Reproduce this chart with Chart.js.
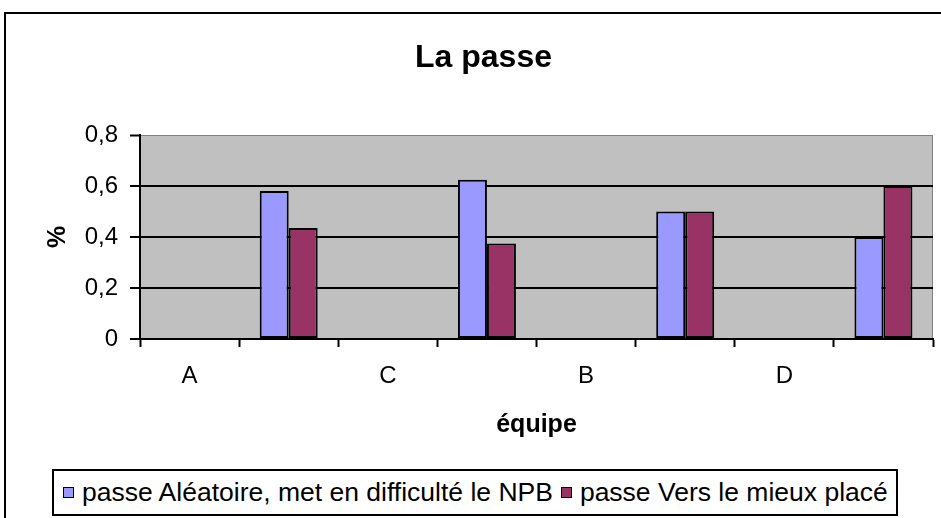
<!DOCTYPE html>
<html>
<head>
<meta charset="utf-8">
<script src="https://cdn.jsdelivr.net/npm/chart.js@4/dist/chart.umd.min.js"></script>
<style>
  html, body { margin: 0; padding: 0; background: #fff; overflow: hidden; }
  body { width: 941px; height: 518px; position: relative; font-family: "Liberation Sans", Arial, sans-serif; }
  #frame { position: absolute; left: 4px; top: 12px; width: 980px; height: 560px; border: 2px solid #000; }
  #chart { position: absolute; left: 0; top: 0; }
  #legend {
    position: absolute; left: 52px; top: 469px; width: 846px; height: 47px;
    box-sizing: border-box; border: 2px solid #000; background: #fff;
    display: flex; align-items: center; padding-left: 9px;
    font-size: 26.5px; color: #000; white-space: nowrap;
  }
  .legend-item { display: flex; align-items: center; margin-right: 8px; }
  .legend-color { width: 9px; height: 9px; border: 1.5px solid #000; margin-right: 8px; }
</style>
</head>
<body>
<div id="frame"></div>
<canvas id="chart" width="941" height="518"></canvas>
<div id="legend"></div>
<script>
// Data
const categories = ['A', '', 'C', '', 'B', '', 'D', ''];
const seriesNames = ['passe Aléatoire, met en difficulté le NPB', 'passe Vers le mieux placé'];
const randomPass = [null, 0.58, null, 0.625, null, 0.5, null, 0.4];
const bestPlacedPass = [null, 0.435, null, 0.375, null, 0.5, null, 0.6];
const yTickLabels = ['0', '0,2', '0,4', '0,6', '0,8'];

const seriesColors = ['#9999FF', '#993366'];

Chart.defaults.font.family = '"Liberation Sans", Arial, sans-serif';
Chart.defaults.color = '#000';

// grey plot area like the old Excel default
const plotArea = {
    id: 'plotArea',
    beforeDraw(chart) {
        const { ctx, chartArea: a } = chart;
        ctx.save();
        ctx.fillStyle = '#C0C0C0';
        ctx.fillRect(a.left, a.top, a.right - a.left, a.bottom - a.top);
        ctx.strokeStyle = '#808080';
        ctx.lineWidth = 1;
        ctx.strokeRect(a.left + 0.5, a.top + 0.5, a.right - a.left - 1, a.bottom - a.top);
        ctx.restore();
    }
};

// legend built from the datasets, drawn as html under the canvas
const htmlLegend = {
    id: 'htmlLegend',
    afterUpdate(chart) {
        const box = document.getElementById('legend');
        box.innerHTML = '';
        chart.data.datasets.forEach(ds => {
            const item = document.createElement('div');
            item.className = 'legend-item';
            const sw = document.createElement('div');
            sw.className = 'legend-color';
            sw.style.backgroundColor = ds.backgroundColor;
            const txt = document.createElement('span');
            txt.innerText = ds.label;
            item.appendChild(sw);
            item.appendChild(txt);
            box.appendChild(item);
        });
    }
};

new Chart(document.getElementById('chart'), {
    type: 'bar',
    data: {
        labels: categories,
        datasets: [
            { label: seriesNames[0], data: randomPass, backgroundColor: seriesColors[0] },
            { label: seriesNames[1], data: bestPlacedPass, backgroundColor: seriesColors[1] }
        ]
    },
    options: {
        responsive: false,
        animation: false,
        // left padding pushes the title centre to the right like the original
        layout: { padding: { left: 34, right: 8, top: 0, bottom: 78 } },
        datasets: {
            bar: {
                categoryPercentage: 0.585,
                barPercentage: 1.0,
                borderColor: '#000',
                borderWidth: 2,
                borderSkipped: false
            }
        },
        plugins: {
            legend: { display: false },
            tooltip: { enabled: false },
            title: {
                display: true,
                text: 'La passe',
                color: '#000',
                font: { size: 32, weight: 'bold' },
                padding: { top: 39, bottom: 57.6 }
            }
        },
        scales: {
            x: {
                afterFit(scale) { scale.height = 101; },
                grid: { drawOnChartArea: false, drawTicks: true, tickLength: 8, tickColor: '#000', tickWidth: 2, offset: true },
                border: { color: '#000', width: 2 },
                ticks: { font: { size: 24 }, padding: 15, maxRotation: 0, autoSkip: false },
                title: { display: true, text: 'équipe', font: { size: 25, weight: 'bold' }, padding: { top: 0, bottom: 0 } }
            },
            y: {
                min: 0,
                max: 0.8,
                afterFit(scale) { scale.width = 106; },
                ticks: {
                    stepSize: 0.2,
                    font: { size: 24 },
                    padding: 12,
                    callback: (v, i) => yTickLabels[i]
                },
                grid: {
                    color: ctx => (ctx.tick && ctx.tick.value >= 0.79) ? '#808080' : '#000',
                    lineWidth: ctx => (ctx.tick && ctx.tick.value >= 0.79) ? 1 : 2,
                    tickColor: '#000',
                    tickWidth: 2,
                    tickLength: 10
                },
                border: { color: '#000', width: 2 },
                title: { display: true, text: '%', font: { size: 25, weight: 'bold' }, padding: { top: 9, bottom: 9 } }
            }
        }
    },
    plugins: [plotArea, htmlLegend]
});
</script>
</body>
</html>
